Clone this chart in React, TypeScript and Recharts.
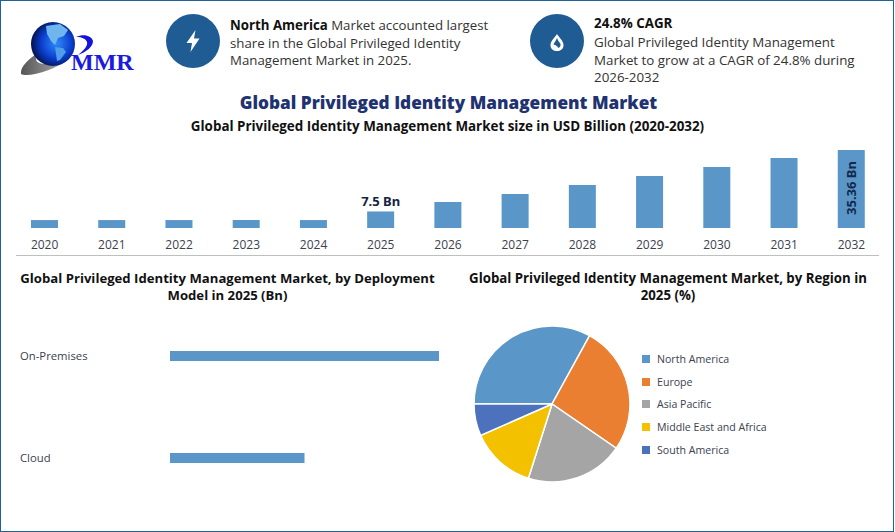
import { BarChart, Bar, XAxis, YAxis, LabelList, PieChart, Pie, Cell, Legend } from "recharts";

const years = ["2020", "2021", "2022", "2023", "2024", "2025", "2026", "2027", "2028", "2029", "2030", "2031", "2032"];
const marketSize = [3.6, 3.6, 3.6, 3.6, 3.6, 7.5, 11.8, 15.4, 19.5, 23.6, 27.7, 31.7, 35.36];
const barNotes = ["", "", "", "", "", "7.5 Bn", "", "", "", "", "", "", "35.36 Bn"];

const deployments = ["On-Premises", "Cloud"];
const deploymentValues = [5, 2.5];

const regions = ["North America", "Europe", "Asia Pacific", "Middle East and Africa", "South America"];
const regionShares = [33, 26.6, 20.3, 13.5, 6.6];
const regionColors = ["#5b96c9", "#ea7e31", "#a5a5a5", "#f4c100", "#4c71bd"];

const yearData = years.map((year, i) => ({ year, size: marketSize[i], note: barNotes[i] }));
const deploymentData = deployments.map((name, i) => ({ name, value: deploymentValues[i] }));
const regionData = regions.map((name, i) => ({ name, value: regionShares[i] }));

const FONT = "'Open Sans', 'Noto Sans', sans-serif";
const BAR = "#5b96c9";
const AXIS_TEXT = "#3c4150";

const place = (left: number, top: number, width: number, extra = {}) => ({
  position: "absolute" as const, left, top, width, whiteSpace: "nowrap" as const, ...extra,
});

function BarNote({ x, y, width, height, value }: any) {
  if (!value) return null;
  const cx = x + width / 2;
  // the last bar is tall enough to carry its label inside
  if (value === "35.36 Bn") {
    return (
      <text x={cx} y={y + height / 2 - 1} transform={`rotate(-90 ${cx} ${y + height / 2 - 1})`} textAnchor="middle"
        dominantBaseline="central" fontSize={13} fontWeight={700} fill="#12294a" fontFamily="'Noto Sans'">
        {value}
      </text>
    );
  }
  return (
    <text x={cx} y={y - 5} textAnchor="middle" fontSize={13} fontWeight={700} fill="#14233f" fontFamily="'Noto Sans'">
      {value}
    </text>
  );
}

function CategoryTick({ y, payload }: any) {
  return (
    <text x={20} y={y - 1} dominantBaseline="central" fontSize={11.3} fill={AXIS_TEXT} fontFamily={FONT}>
      {payload.value}
    </text>
  );
}

function RegionLegend({ payload }: any) {
  return (
    <div>
      {(payload || []).map((item: any) => (
        <div key={item.value} style={{ display: "flex", alignItems: "center", height: 22.6, fontSize: 10.6, color: AXIS_TEXT, fontFamily: FONT, whiteSpace: "nowrap" }}>
          <span style={{ width: 8, height: 8, background: item.color, marginRight: 7 }} />
          {item.value}
        </div>
      ))}
    </div>
  );
}

function Logo() {
  return (
    <svg width={140} height={80} style={{ position: "absolute", left: 0, top: 0 }}>
      <defs>
        <radialGradient id="globe" cx="58%" cy="48%" r="62%">
          <stop offset="0%" stopColor="#2f8cf5" />
          <stop offset="55%" stopColor="#0b3fd0" />
          <stop offset="100%" stopColor="#020a3a" />
        </radialGradient>
        <linearGradient id="swoosh" x1="0" x2="1">
          <stop offset="0%" stopColor="#555" />
          <stop offset="100%" stopColor="#b5b5b5" />
        </linearGradient>
      </defs>
      <path d="M21 74 C20 66 30 58 38 53 C34 60 36 64 46 64 C54 64 62 62 70 58 C56 70 28 78 21 74Z" fill="url(#swoosh)" />
      <circle cx={53} cy={44} r={22} fill="url(#globe)" />
      <path d="M46 26 L60 24 L68 30 L64 36 L58 38 L55 45 L51 41 L47 34Z" fill="#6fb6ee" />
      <path d="M55 47 L63 48 L66 52 L60 60 L57 61 L56 54Z" fill="#4f9eea" />
      <path d="M76 37 C84 33 92 36 93 41 C93 47 86 52 78 55 C84 50 88 46 87 42 C86 39 82 37 76 37Z" fill="#1414d8" />
      <text x={71} y={70} fontFamily="'Liberation Serif'" fontWeight={700} fontSize={24} fill="#1a1ae0">MMR</text>
    </svg>
  );
}

function Badge({ left, children }: { left: number; children: any }) {
  return (
    <svg width={54} height={54} style={{ position: "absolute", left, top: 14 }}>
      <circle cx={27} cy={27} r={27} fill="#1f5c94" />
      {children}
    </svg>
  );
}

export default function App() {
  return (
    <div style={{ position: "absolute", left: 0, top: 0, width: 895, height: 532, background: "#fff", overflow: "hidden", fontFamily: FONT }}>
      <div style={place(0, 0, 891.5, { height: 529.5, border: "1.5px solid #1f6296" })} />
      <Logo />

      <Badge left={166}>
        <path d="M29.5 16 L20.5 29 L26 29 L24.5 38 L33.5 24.5 L28 24.5Z" fill="#fff" />
      </Badge>
      <Badge left={530}>
        <path d="M27 20 C24.5 24 20.5 27 20.5 31 C20.5 35 23.5 37 27 37 C30.5 37 33.5 35 33.5 31 C33.5 27 29.5 24 27 20Z" fill="#fff" />
        <path d="M27 24 C26 27 23.5 29 23.5 31 C24.5 30 27 32 28.5 34 C30 33 31 31.5 30.5 30 C29.5 28 28 27 27 24Z" fill="#1f5c94" />
      </Badge>

      <div style={place(230, 17, 270, { fontSize: 13.25, lineHeight: "17.5px", color: "#333" })}>
        <b style={{ color: "#111" }}>North America</b> Market accounted largest<br />
        share in the Global Privileged Identity<br />
        Management Market in 2025.
      </div>
      <div style={place(594, 15, 290, { fontSize: 13.35, lineHeight: "17.5px", color: "#333" })}>
        <b style={{ color: "#111" }}>24.8% CAGR</b>
        <div style={{ marginTop: 1.5 }}>
          Global Privileged Identity Management<br />
          Market to grow at a CAGR of 24.8% during<br />
          2026-2032
        </div>
      </div>

      <div style={place(0, 91, 897, { textAlign: "center", fontSize: 17.2, fontWeight: 800, color: "#1f3370", lineHeight: "24px" })}>
        Global Privileged Identity Management Market
      </div>
      <div style={place(0, 116, 895, { textAlign: "center", fontSize: 13.4, fontWeight: 700, color: "#111", lineHeight: "20px" })}>
        Global Privileged Identity Management Market size in USD Billion (2020-2032)
      </div>

      <div style={place(0, 140, 895)}>
        <BarChart width={895} height={115} data={yearData} margin={{ top: 10, right: 10, bottom: 0, left: 11 }}>
          <XAxis dataKey="year" height={27} interval={0} axisLine={false} tickLine={false} tickMargin={6}
            tick={{ fontSize: 12, fill: AXIS_TEXT, fontFamily: FONT }} />
          <YAxis hide domain={[0, 35.36]} />
          <Bar dataKey="size" fill={BAR} barSize={27} isAnimationActive={false}>
            <LabelList dataKey="note" content={BarNote} />
          </Bar>
        </BarChart>
      </div>
      <div style={place(16, 255, 863, { height: 1, background: "#bfbfbf" })} />

      <div style={place(0, 270, 455, { textAlign: "center", fontSize: 13.15, fontWeight: 700, color: "#111", lineHeight: "17px" })}>
        Global Privileged Identity Management Market, by Deployment<br />Model in 2025 (Bn)
      </div>
      <div style={place(450, 270, 436, { textAlign: "center", fontSize: 13.25, fontWeight: 700, color: "#111", lineHeight: "17px" })}>
        Global Privileged Identity Management Market, by Region in<br />2025 (%)
      </div>

      <div style={place(0, 305, 450)}>
        <BarChart width={450} height={204} layout="vertical" data={deploymentData} margin={{ top: 0, right: 11, bottom: 0, left: 0 }}>
          <XAxis type="number" hide domain={[0, 5]} />
          <YAxis type="category" dataKey="name" width={170} axisLine={false} tickLine={false} tick={<CategoryTick />} />
          <Bar dataKey="value" fill={BAR} barSize={10} isAnimationActive={false} />
        </BarChart>
      </div>

      <div style={place(450, 310, 440)}>
        <PieChart width={440} height={190} margin={{ top: 0, right: 0, bottom: 0, left: 0 }}>
          <Pie data={regionData} dataKey="value" nameKey="name" cx={102} cy={94} outerRadius={78} startAngle={180} endAngle={-180}
            stroke="#fff" strokeWidth={1.5} isAnimationActive={false}>
            {regionColors.map((color) => <Cell key={color} fill={color} />)}
          </Pie>
          <Legend content={<RegionLegend />} itemSorter={null} layout="vertical" wrapperStyle={{ left: 192, top: 38, width: 200, bottom: "auto" }} />
        </PieChart>
      </div>
    </div>
  );
}
